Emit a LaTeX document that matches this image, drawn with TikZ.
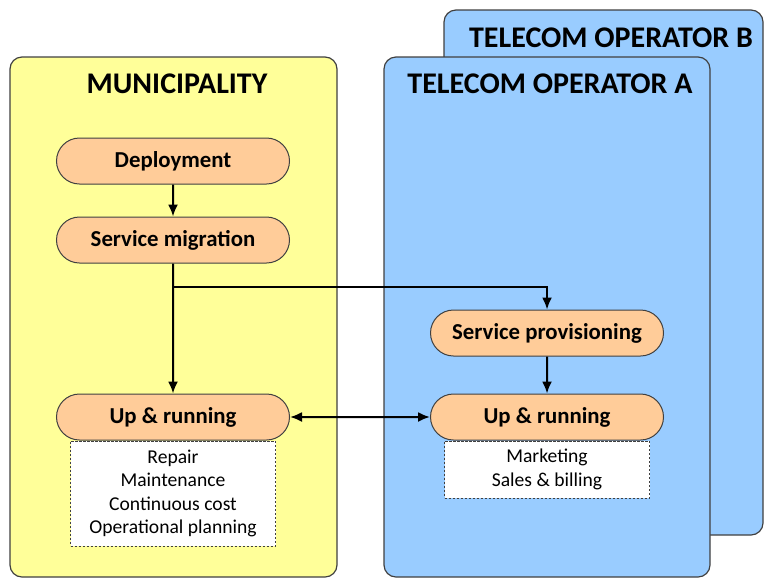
\documentclass[tikz,border=0pt]{standalone}
\usepackage{fontspec}
\setmainfont{Carlito}
\usetikzlibrary{positioning, shapes.misc, arrows.meta}

\definecolor{muniyellow}{HTML}{FFFF99}
\definecolor{telcoblue}{HTML}{99CCFF}
\definecolor{phasepeach}{HTML}{FFCC99}
\definecolor{edgegray}{HTML}{404040}

\tikzset{
	zonebox/.style={draw=edgegray, line width=0.6pt, rounded corners=6pt},
	zonetitle/.style={font=\fontsize{15}{18}\selectfont\bfseries},
	phase/.style={rounded rectangle, draw=edgegray, line width=0.5pt, fill=phasepeach,
		minimum width=116.5pt, minimum height=23pt, inner sep=0pt,
		font=\fontsize{11.4}{13}\selectfont\bfseries},
	tasks/.style={draw=edgegray, dash pattern=on 1.2pt off 0.8pt, line width=0.4pt, fill=white,
		minimum width=102.5pt, inner sep=0pt, align=center,
		font=\fontsize{9.8}{11.6}\selectfont},
	flow/.style={-{Latex[length=6pt,width=5pt]}, line width=1pt},
	twoway/.style={{Latex[length=6pt,width=5pt]}-{Latex[length=6pt,width=5pt]}, line width=1pt}
}

\begin{document}
\begin{tikzpicture}[x=0.5pt, y=-0.5pt]
	\useasboundingbox (0,0) rectangle (764,579);

	% zones
	\draw[zonebox, fill=telcoblue] (444,10) rectangle (763,535);
	\draw[zonebox, fill=muniyellow] (10,57) rectangle (337,577);
	\draw[zonebox, fill=telcoblue] (384,57) rectangle (710,577);

	\node[zonetitle] (opB) at (611,38) {TELECOM OPERATOR B};
	\node[zonetitle] (muni) at (177,84) {MUNICIPALITY};
	\node[zonetitle] (opA) at (550,84) {TELECOM OPERATOR A};

	% municipality side
	\node[phase] (deploy) at (173,161) {Deployment};
	\node[phase, below=16pt of deploy] (migrate) {Service migration};
	\node[phase] (upM) at (173,417) {Up \& running};
	\node[tasks, minimum height=52.5pt, below=0pt of upM] (tasksM)
		{Repair\\Maintenance\\Continuous cost\\Operational planning};

	% operator side
	\node[phase] (provision) at (547,333) {Service provisioning};
	\node[phase] (upT) at (547,417) {Up \& running};
	\node[tasks, minimum height=28.5pt, below=0pt of upT] (tasksT)
		{Marketing\\Sales \& billing};

	\coordinate (split) at (173,287);

	% connectors
	\draw[flow] (deploy) -- (migrate);
	\draw[flow] (migrate) -- (upM);
	\draw[flow] (split) -| (provision);
	\draw[flow] (provision) -- (upT);
	\draw[twoway] (upM) -- (upT);
\end{tikzpicture}
\end{document}
